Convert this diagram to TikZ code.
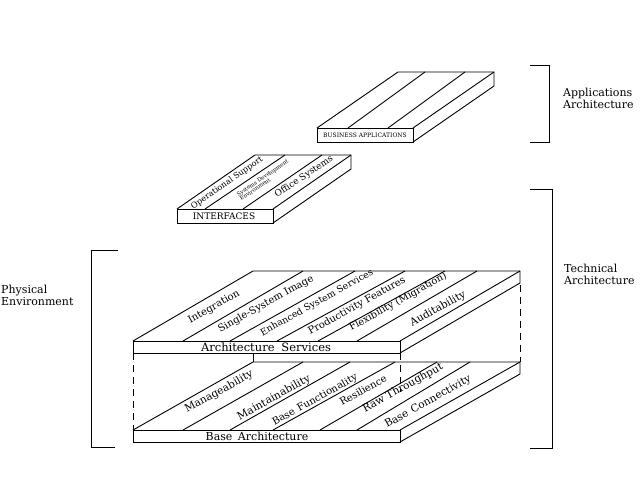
\documentclass[tikz,border=0pt]{standalone}
\usepackage{fontspec}
\setmainfont{DejaVu Serif}
\usetikzlibrary{positioning}

\tikzset{
  slabline/.style={line width=0.9pt},
  hidden/.style={line width=0.8pt, dash pattern=on 7pt off 5pt},
  boxlabel/.style={font=\fontsize{#1}{#1}\selectfont, inner sep=0pt},
  striplabel/.style={font=\fontsize{#1}{#1}\selectfont, rotate=29, inner sep=0pt},
  striplabel/.default=10,
  sidelabel/.style={font=\fontsize{11}{12}\selectfont, align=left, anchor=west, inner sep=0pt}
}

% front-left top corner (#1,#2), width #3, depth (#4,#5), thickness #6
\newcommand{\slab}[6]{%
  \draw[slabline] (#1,#2) rectangle (#1+#3,#2+#6);
  \draw[slabline] (#1,#2) -- ++(#4,#5) -- ++(#3,0) -- ++(0,#6) -- (#1+#3,#2+#6);
  \draw[slabline] (#1+#3,#2) -- ++(#4,#5);
}

\begin{document}
\begin{tikzpicture}[x=1pt,y=-1pt]
  \useasboundingbox (0,0) rectangle (640,480);

  \slab{317}{128}{96}{81}{-56}{14}
  \foreach \b/\t in {348/425, 388/465}
    \draw[slabline] (\b,128) -- (\t,72);
  \node[boxlabel=6] (busapp) at (365,135.5) {BUSINESS APPLICATIONS};

  \slab{177}{209}{96}{78}{-54}{14}
  \foreach \b/\t in {205/285, 243/322}
    \draw[slabline] (\b,209) -- (\t,155);
  \node[boxlabel=9] (interf) at (224,216.5) {INTERFACES};
  \node[striplabel=8.2, rotate=6] (opsup) at (227,183) {Operational Support};
  \node[striplabel=5.4, rotate=5, align=left] (sysdev) at (264,180)
    {Systems Development\\Environment};
  \node[striplabel=9, rotate=5] (office) at (304,177) {Office Systems};

  \slab{133}{341}{267}{120}{-70}{12}
  \foreach \b/\t in {183/303, 230/355, 277/405, 318/445, 357/477}
    \draw[slabline] (\b,341) -- (\t,271);
  \node[boxlabel=11.5] (archserv) at (266,347) {Architecture\hspace{0.6em}Services};
  \node[striplabel] (integ) at (214,307) {Integration};
  \node[striplabel] (single) at (266,304) {Single-System Image};
  \node[striplabel=9.3] (enhanced) at (317,303) {Enhanced System Services};
  \node[striplabel=10] (product) at (357,306) {Productivity Features};
  \node[striplabel=9.8] (flex) at (398,302) {Flexibility (Migration)};
  \node[striplabel=10.5] (audit) at (438,309) {Auditability};

  \draw[hidden] (133,353) -- (133,430);
  \draw[hidden] (400,353) -- (400,392);
  \draw[hidden] (520,285) -- (520,362);
  \draw[slabline] (253,353) -- (253,362);

  \slab{133}{430}{267}{120}{-68}{12}
  \foreach \b/\t in {183/303, 230/350, 273/395, 320/437, 357/470}
    \draw[slabline] (\b,430) -- (\t,362);
  \node[boxlabel=11] (basearch) at (257,436) {Base\hspace{0.5em}Architecture};
  \node[striplabel=10.5] (manage) at (219,392) {Manageability};
  \node[striplabel=10.6] (maint) at (274,398) {Maintainability};
  \node[striplabel=10] (basefun) at (315,400) {Base\hspace{0.4em}Functionality};
  \node[striplabel=10] (resil) at (363,390) {Resilience};
  \node[striplabel=10.5] (rawthru) at (403,388) {Raw Throughput};
  \node[striplabel=10.5] (basecon) at (428,402) {Base\hspace{0.4em}Connectivity};

  \draw[slabline] (530,65) -- (549,65) -- (549,142) -- (530,142);
  \node[sidelabel] (apparch) at (563,98) {Applications\\Architecture};

  \draw[slabline] (530,189) -- (552,189) -- (552,448) -- (530,448);
  \node[sidelabel] (techarch) at (564,274) {Technical\\Architecture};

  \draw[slabline] (118,250) -- (91,250) -- (91,447) -- (115,447);
  \node[sidelabel] (physenv) at (1,295) {Physical\\Environment};
\end{tikzpicture}
\end{document}
